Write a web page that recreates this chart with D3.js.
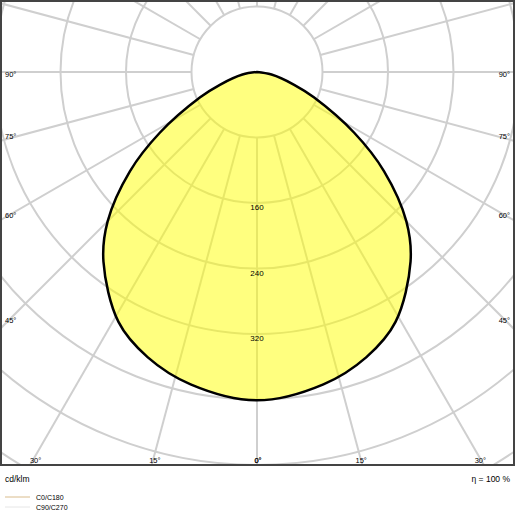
<!DOCTYPE html>
<html><head><meta charset="utf-8">
<script src="https://cdn.jsdelivr.net/npm/d3@7"></script>
<style>body{margin:0;background:#fff}text{font-family:"Liberation Sans",Arial,sans-serif;fill:#000}</style>
</head><body>
<svg id="chart" width="515" height="515"></svg>
<script>
// C0/C180 curve (angle from nadir, cd/klm)
var angles = [0, 12, 21, 29, 39, 45, 52, 58, 66, 71, 80, 90]
var values = [401, 390, 373, 349, 298, 258, 197, 140, 76, 48, 18, 0]
var rings = [80, 160, 240, 320, 400, 480, 560, 640, 720]
var ringLabels = [160, 240, 320]
var spokes = d3.range(0, 360, 15)
var sideLabels = [90, 75, 60, 45]
var bottomLabels = [30, 15, 0]

var W = 515, H = 465, cx = 257, cy = 72
var svg = d3.select('#chart')
var r = d3.scaleLinear().domain([0, 80]).range([0, 65.5])

function pt(a, v) { // a deg from nadir, positive to the right
    var t = a * Math.PI / 180
    return [cx + Math.sin(t) * r(v), cy + Math.cos(t) * r(v)]
}

svg.append('clipPath').attr('id', 'clip')
    .append('rect').attr('width', W).attr('height', H)
var g = svg.append('g').attr('clip-path', 'url(#clip)')

g.selectAll('circle').data(rings).enter().append('circle')
    .attr('cx', cx).attr('cy', cy).attr('r', function(d) { return r(d) })
    .attr('fill', 'none').attr('stroke', '#cfcfcf').attr('stroke-width', 2)

g.selectAll('line.sp').data(spokes).enter().append('line')
    .attr('x1', function(d) { return pt(d, 80)[0] })
    .attr('y1', function(d) { return pt(d, 80)[1] })
    .attr('x2', function(d) { return pt(d, 1200)[0] })
    .attr('y2', function(d) { return pt(d, 1200)[1] })
    .attr('stroke', '#cfcfcf').attr('stroke-width', 2)

// right top -> nadir -> left top
var ordered = angles.slice().reverse().map(function(a, i) { return pt(a, values[angles.length - 1 - i]) })
    .concat(angles.slice(1).map(function(a, i) { return pt(-a, values[i + 1]) }))

g.append('path')
    .attr('d', d3.line().curve(d3.curveCatmullRom.alpha(0.5))(ordered) + 'Z')
    .attr('fill', 'rgba(255,255,0,0.5)')
    .attr('stroke', '#000').attr('stroke-width', 2.5).attr('stroke-linejoin', 'round')

g.selectAll('text.rl').data(ringLabels).enter().append('text')
    .attr('x', cx).attr('y', function(d) { return cy + r(d) + 7 })
    .attr('text-anchor', 'middle').attr('font-size', 8).text(function(d) { return d })

sideLabels.forEach(function(a) {
    var y = cy + cx / Math.tan(a * Math.PI / 180) - (a === 45 ? 6 : 2)
    if (a === 90) y = cy + 5
    svg.append('text').attr('x', 5).attr('y', y).attr('font-size', 7.5).text(a + '°')
    svg.append('text').attr('x', 510).attr('y', y).attr('text-anchor', 'end').attr('font-size', 7.5).text(a + '°')
})
bottomLabels.forEach(function(a) {
    var dx = (H - cy) * Math.tan(a * Math.PI / 180) * 0.98
    ;[cx - dx, cx + dx].forEach(function(x) {
        svg.append('text').attr('x', x + 1).attr('y', 463).attr('text-anchor', 'middle')
            .attr('font-size', 7.5).text(a + '°')
    })
})

svg.append('rect').attr('x', 1).attr('y', 1).attr('width', W - 2).attr('height', H - 1)
    .attr('fill', 'none').attr('stroke', '#444').attr('stroke-width', 2)

svg.append('text').attr('x', 5).attr('y', 482).attr('font-size', 8.5).text('cd/klm')
svg.append('text').attr('x', 510).attr('y', 482).attr('text-anchor', 'end').attr('font-size', 8.5).text('η = 100 %')
var legend = [['C0/C180', '#d9bc8c'], ['C90/C270', '#e6e6e6']]
legend.forEach(function(l, i) {
    var y = 497 + i * 10
    svg.append('line').attr('x1', 5).attr('x2', 30).attr('y1', y).attr('y2', y)
        .attr('stroke', l[1]).attr('stroke-width', 1)
    svg.append('text').attr('x', 36).attr('y', y + 2.5).attr('font-size', 7).text(l[0])
})
</script>
</body></html>
